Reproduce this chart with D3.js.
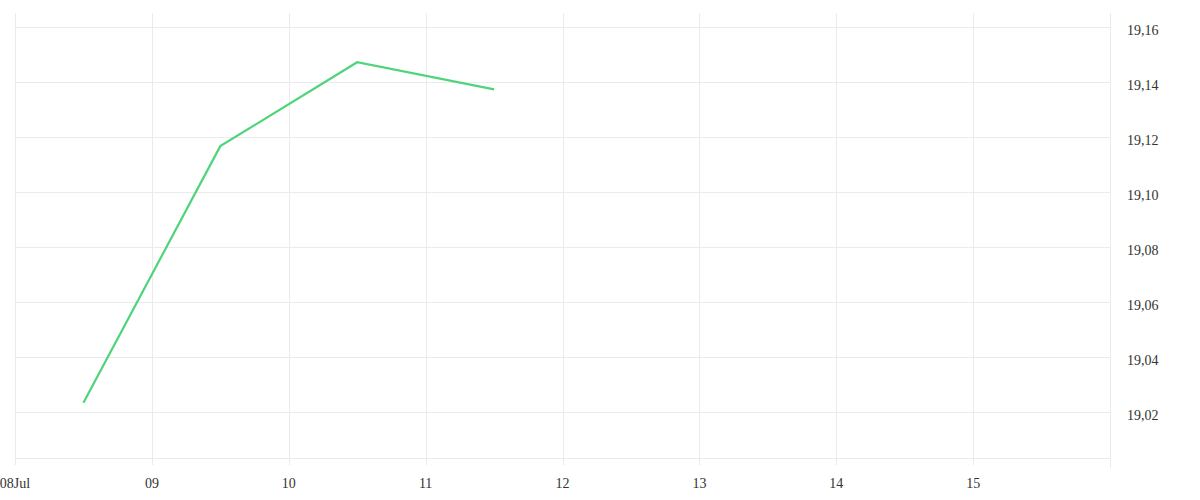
<!DOCTYPE html>
<html><head><meta charset="utf-8">
<script src="https://cdn.jsdelivr.net/npm/d3@7/dist/d3.min.js"></script>
<style>
body{margin:0;background:#fff;}
svg text{font-family:"Liberation Serif",serif;font-size:14px;fill:#333;}
</style></head>
<body><svg id="c" width="1200" height="500"></svg>
<script>
const dates = ["2024-07-08T12:00","2024-07-09T12:00","2024-07-10T12:00","2024-07-11T12:00"];
const values = [19.0234, 19.1167, 19.1472, 19.1373];
const yTicks = [19.02,19.04,19.06,19.08,19.10,19.12,19.14,19.16];
const xTickDays = ["2024-07-08","2024-07-09","2024-07-10","2024-07-11","2024-07-12","2024-07-13","2024-07-14","2024-07-15"];
const xTickLabels = ["08Jul","09","10","11","12","13","14","15"];

const parse = d3.timeParse("%Y-%m-%dT%H:%M");
const parseDay = d3.timeParse("%Y-%m-%d");
const svg = d3.select("#c");
const L=15, R=1110, T=13, B=458;
const x = d3.scaleTime().domain([parseDay("2024-07-08"), parseDay("2024-07-16")]).range([L,R]);
const y = d3.scaleLinear().domain([19.00333, 19.16509]).range([B,T]);
const grid = "#ebebeb";

// horizontal grid
svg.append("g").selectAll("line").data(yTicks).join("line")
  .attr("x1",L).attr("x2",R).attr("y1",d=>Math.round(y(d))+0.5).attr("y2",d=>Math.round(y(d))+0.5)
  .attr("stroke",grid).attr("stroke-width",1);
// bottom line
svg.append("line").attr("x1",L).attr("x2",R).attr("y1",B+0.5).attr("y2",B+0.5).attr("stroke",grid);
// vertical grid + ticks
const xd = xTickDays.map(parseDay);
svg.append("g").selectAll("line").data(xd).join("line")
  .attr("x1",d=>Math.round(x(d))+0.5).attr("x2",d=>Math.round(x(d))+0.5)
  .attr("y1",T).attr("y2",B+7).attr("stroke",grid);
// right axis line
svg.append("line").attr("x1",R+0.5).attr("x2",R+0.5).attr("y1",T).attr("y2",B+10).attr("stroke",grid);

// x labels
svg.append("g").selectAll("text").data(xd).join("text")
  .attr("x",d=>x(d)).attr("y",488).attr("text-anchor","middle")
  .text((d,i)=>xTickLabels[i]);
// y labels
svg.append("g").selectAll("text").data(yTicks).join("text")
  .attr("x",1127).attr("y",d=>y(d)+7.5).attr("text-anchor","start")
  .text(d=>d3.format(".2f")(d).replace(".",","));

// line
const pts = dates.map((d,i)=>({t:parse(d),v:values[i]}));
svg.append("path").datum(pts)
  .attr("fill","none").attr("stroke","#4ed47a").attr("stroke-width",2.2)
  .attr("d",d3.line().x(d=>x(d.t)).y(d=>y(d.v)));
</script></body></html>
